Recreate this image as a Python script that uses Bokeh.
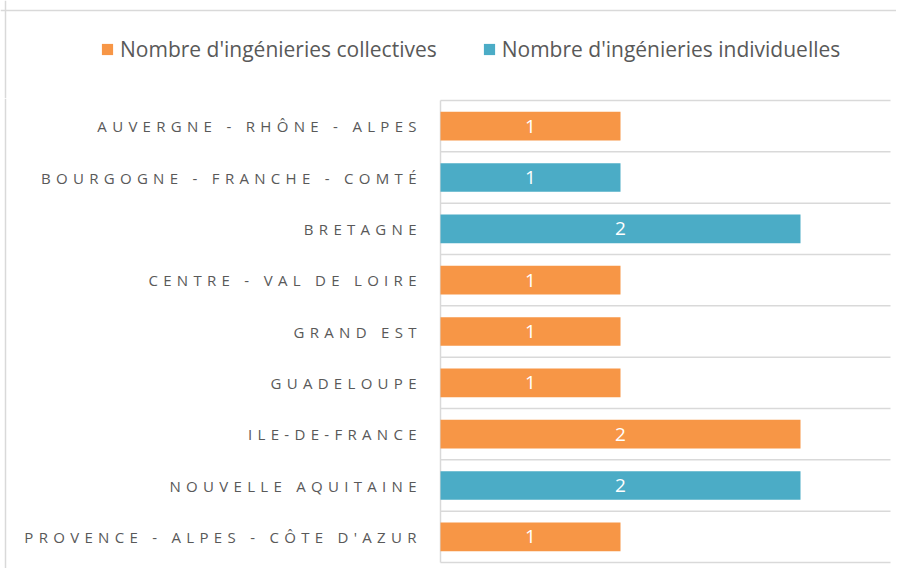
from bokeh.plotting import figure
from bokeh.models import ColumnDataSource, Legend, LegendItem, Range1d, Span
from bokeh.layouts import column
from bokeh.core.properties import value
from bokeh.embed import file_html
from bokeh.resources import INLINE

regions = [
    "AUVERGNE - RHÔNE - ALPES",
    "BOURGOGNE - FRANCHE - COMTÉ",
    "BRETAGNE",
    "CENTRE - VAL DE LOIRE",
    "GRAND EST",
    "GUADELOUPE",
    "ILE-DE-FRANCE",
    "NOUVELLE AQUITAINE",
    "PROVENCE - ALPES - CÔTE D'AZUR",
]
collectives = [1, 0, 0, 1, 1, 1, 2, 0, 1]
individuelles = [0, 1, 2, 0, 0, 0, 0, 2, 0]
series_names = ["Nombre d'ingénieries collectives", "Nombre d'ingénieries individuelles"]
colors = ["#F79646", "#4BACC6"]
x_max = 2.5

n = len(regions)
ypos = [n - i - 0.5 for i in range(n)]
stack_end = [c + d for c, d in zip(collectives, individuelles)]

# layout constants (pixels)
W = 896
LEG_H = 98
MAIN_H = 470
AXIS_X = 440          # pixel position of value 0
UNIT_PX = 180         # pixels per unit of value
TOP_PAD = 2           # frame top above first row boundary
BOT_PAD = 6
LETTER_SP = 5.3
LABEL_GAP = 24
BORDER_X = 5
BORDER_Y = 10

row_px = (MAIN_H - TOP_PAD - BOT_PAD) / n
xr = Range1d(-AXIS_X / UNIT_PX, (W - AXIS_X) / UNIT_PX)
border_x = (BORDER_X - AXIS_X) / UNIT_PX

src = ColumnDataSource(dict(y=ypos, c=collectives, i=individuelles, tot=stack_end))

lab_x, lab_y, lab_t = [], [], []
for k in range(n):
    if collectives[k]:
        lab_x.append(collectives[k] / 2); lab_y.append(ypos[k]); lab_t.append(str(collectives[k]))
    if individuelles[k]:
        lab_x.append(collectives[k] + individuelles[k] / 2); lab_y.append(ypos[k]); lab_t.append(str(individuelles[k]))
lsrc = ColumnDataSource(dict(x=lab_x, y=lab_y, t=lab_t))

cat_src = ColumnDataSource(dict(
    x=[0] * n, y=ypos, t=regions,
    off=[-(LABEL_GAP + LETTER_SP * (len(r) - 1)) for r in regions]))

# ---- legend strip ----
lf = figure(width=W, height=LEG_H, x_range=xr, y_range=Range1d(LEG_H, 0),
            output_backend="svg", toolbar_location=None,
            min_border_left=0, min_border_right=0, min_border_top=0, min_border_bottom=0)
lf.extra_y_ranges = {"hidden": Range1d(100, 101)}
lf.axis.visible = False
lf.grid.visible = False
lf.outline_line_color = None
l1 = lf.hbar(y="y", left=0, right="c", height=0.56, source=src, fill_color=colors[0],
             line_color=None, y_range_name="hidden")
l2 = lf.hbar(y="y", left="c", right="tot", height=0.56, source=src, fill_color=colors[1],
             line_color=None, y_range_name="hidden")
legend = Legend(items=[LegendItem(label=series_names[0], renderers=[l1]),
                       LegendItem(label=series_names[1], renderers=[l2])],
                orientation="horizontal", location=(100, 35),
                border_line_color=None, background_fill_alpha=0,
                label_text_font="Open Sans", label_text_font_size="21px",
                label_text_color="#595959", glyph_width=14, glyph_height=14,
                label_height=20, spacing=45, padding=0, margin=0, label_standoff=6)
lf.add_layout(legend)
lf.add_layout(Span(location=BORDER_Y, dimension="width", line_color="#d9d9d9", line_width=1.5))
lf.add_layout(Span(location=border_x, dimension="height", line_color="#d9d9d9", line_width=1.5))

# ---- main chart ----
p = figure(width=W, height=MAIN_H, x_range=xr,
           y_range=Range1d(-BOT_PAD / row_px, n + TOP_PAD / row_px),
           output_backend="svg", toolbar_location=None,
           min_border_left=0, min_border_right=0, min_border_top=0, min_border_bottom=0)
p.styles = {"letter-spacing": f"{LETTER_SP}px"}
p.axis.visible = False
p.grid.visible = False
p.outline_line_color = None
p.background_fill_color = "white"

bounds = list(range(n + 1))
p.segment(x0=[0] * len(bounds), x1=[x_max] * len(bounds), y0=bounds, y1=bounds,
          line_color="#d9d9d9", line_width=1.5)
p.segment(x0=[0], x1=[0], y0=[0], y1=[n], line_color="#d9d9d9", line_width=1.5)
p.add_layout(Span(location=border_x, dimension="height", line_color="#d9d9d9", line_width=1.5))

p.hbar(y="y", left=0, right="c", height=0.56, source=src, fill_color=colors[0], line_color=None)
p.hbar(y="y", left="c", right="tot", height=0.56, source=src, fill_color=colors[1], line_color=None)

p.text(x="x", y="y", text="t", source=lsrc, text_color="white", text_font=value("Open Sans"),
       text_font_size="19px", text_align="center", text_baseline="middle")

p.text(x="x", y="y", text="t", x_offset="off", source=cat_src, text_color="#595959",
       text_font=value("Open Sans"), text_font_size="15px",
       text_align="right", text_baseline="middle")

layout = column(lf, p, spacing=0)

open("out.html", "w").write(file_html(layout, INLINE))
